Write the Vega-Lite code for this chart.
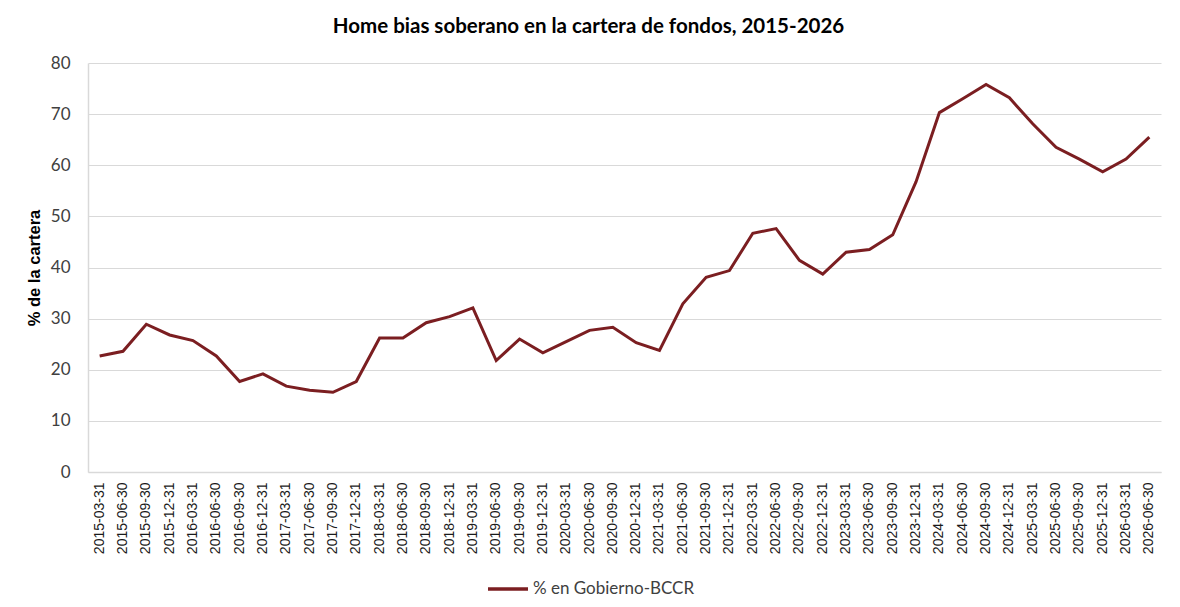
{
  "$schema": "https://vega.github.io/schema/vega-lite/v6.json",
  "width": 1073,
  "height": 409,
  "autosize": "none",
  "padding": {"left": 88, "top": 63, "right": 19, "bottom": 135},
  "background": "white",
  "title": {
    "text": "Home bias soberano en la cartera de fondos, 2015-2026",
    "font": "Lato",
    "fontSize": 20.5,
    "fontWeight": "bold",
    "color": "#000000",
    "anchor": "middle",
    "dx": -36,
    "offset": 17
  },
  "data": {
    "values": [
      {"fecha": "2015-03-31", "valor": 22.7},
      {"fecha": "2015-06-30", "valor": 23.6},
      {"fecha": "2015-09-30", "valor": 28.9},
      {"fecha": "2015-12-31", "valor": 26.8},
      {"fecha": "2016-03-31", "valor": 25.7},
      {"fecha": "2016-06-30", "valor": 22.7},
      {"fecha": "2016-09-30", "valor": 17.7},
      {"fecha": "2016-12-31", "valor": 19.2},
      {"fecha": "2017-03-31", "valor": 16.8},
      {"fecha": "2017-06-30", "valor": 16.0},
      {"fecha": "2017-09-30", "valor": 15.6},
      {"fecha": "2017-12-31", "valor": 17.7},
      {"fecha": "2018-03-31", "valor": 26.2},
      {"fecha": "2018-06-30", "valor": 26.2},
      {"fecha": "2018-09-30", "valor": 29.2},
      {"fecha": "2018-12-31", "valor": 30.4},
      {"fecha": "2019-03-31", "valor": 32.1},
      {"fecha": "2019-06-30", "valor": 21.8},
      {"fecha": "2019-09-30", "valor": 26.0},
      {"fecha": "2019-12-31", "valor": 23.3},
      {"fecha": "2020-03-31", "valor": 25.5},
      {"fecha": "2020-06-30", "valor": 27.7},
      {"fecha": "2020-09-30", "valor": 28.3},
      {"fecha": "2020-12-31", "valor": 25.3},
      {"fecha": "2021-03-31", "valor": 23.8},
      {"fecha": "2021-06-30", "valor": 32.9},
      {"fecha": "2021-09-30", "valor": 38.1},
      {"fecha": "2021-12-31", "valor": 39.4},
      {"fecha": "2022-03-31", "valor": 46.7},
      {"fecha": "2022-06-30", "valor": 47.6},
      {"fecha": "2022-09-30", "valor": 41.4},
      {"fecha": "2022-12-31", "valor": 38.7},
      {"fecha": "2023-03-31", "valor": 43.0},
      {"fecha": "2023-06-30", "valor": 43.5},
      {"fecha": "2023-09-30", "valor": 46.4},
      {"fecha": "2023-12-31", "valor": 56.8},
      {"fecha": "2024-03-31", "valor": 70.3},
      {"fecha": "2024-06-30", "valor": 73.0},
      {"fecha": "2024-09-30", "valor": 75.8},
      {"fecha": "2024-12-31", "valor": 73.2},
      {"fecha": "2025-03-31", "valor": 68.1},
      {"fecha": "2025-06-30", "valor": 63.5},
      {"fecha": "2025-09-30", "valor": 61.2},
      {"fecha": "2025-12-31", "valor": 58.7},
      {"fecha": "2026-03-31", "valor": 61.2},
      {"fecha": "2026-06-30", "valor": 65.5}
    ]
  },
  "mark": {"type": "line", "strokeWidth": 3},
  "encoding": {
    "x": {
      "field": "fecha",
      "type": "ordinal",
      "sort": null,
      "scale": {"type": "band", "paddingInner": 0, "paddingOuter": 0},
      "axis": {
        "title": null,
        "labelAngle": 270,
        "labelFont": "Liberation Sans",
        "labelFontSize": 14,
        "labelColor": "#1a1a1a",
        "labelPadding": 10,
        "labelLimit": 200,
        "ticks": false,
        "grid": false,
        "domainColor": "#d9d9d9",
        "domainWidth": 1.5
      }
    },
    "y": {
      "field": "valor",
      "type": "quantitative",
      "scale": {"domain": [0, 80], "nice": false, "zero": true},
      "axis": {
        "title": "% de la cartera",
        "titleFont": "Liberation Sans",
        "titleFontSize": 16.5,
        "titleFontWeight": "bold",
        "titleColor": "#000000",
        "titlePadding": 8,
        "values": [0, 10, 20, 30, 40, 50, 60, 70, 80],
        "labelFont": "Lato",
        "labelFontSize": 17,
        "labelColor": "#404040",
        "labelPadding": 18,
        "ticks": false,
        "grid": true,
        "gridColor": "#d9d9d9",
        "gridWidth": 1,
        "domainColor": "#d9d9d9",
        "domainWidth": 1.5
      }
    },
    "color": {
      "datum": "% en Gobierno-BCCR",
      "type": "nominal",
      "scale": {"range": ["#7b1e21"]},
      "legend": {
        "title": null,
        "orient": "none",
        "legendX": 398,
        "legendY": 504,
        "symbolType": "stroke",
        "symbolSize": 1600,
        "symbolStrokeWidth": 3.5,
        "labelFont": "Lato",
        "labelFontSize": 17,
        "labelColor": "#404040",
        "labelOffset": 3,
        "labelLimit": 400
      }
    }
  },
  "config": {
    "view": {"stroke": null}
  }
}
